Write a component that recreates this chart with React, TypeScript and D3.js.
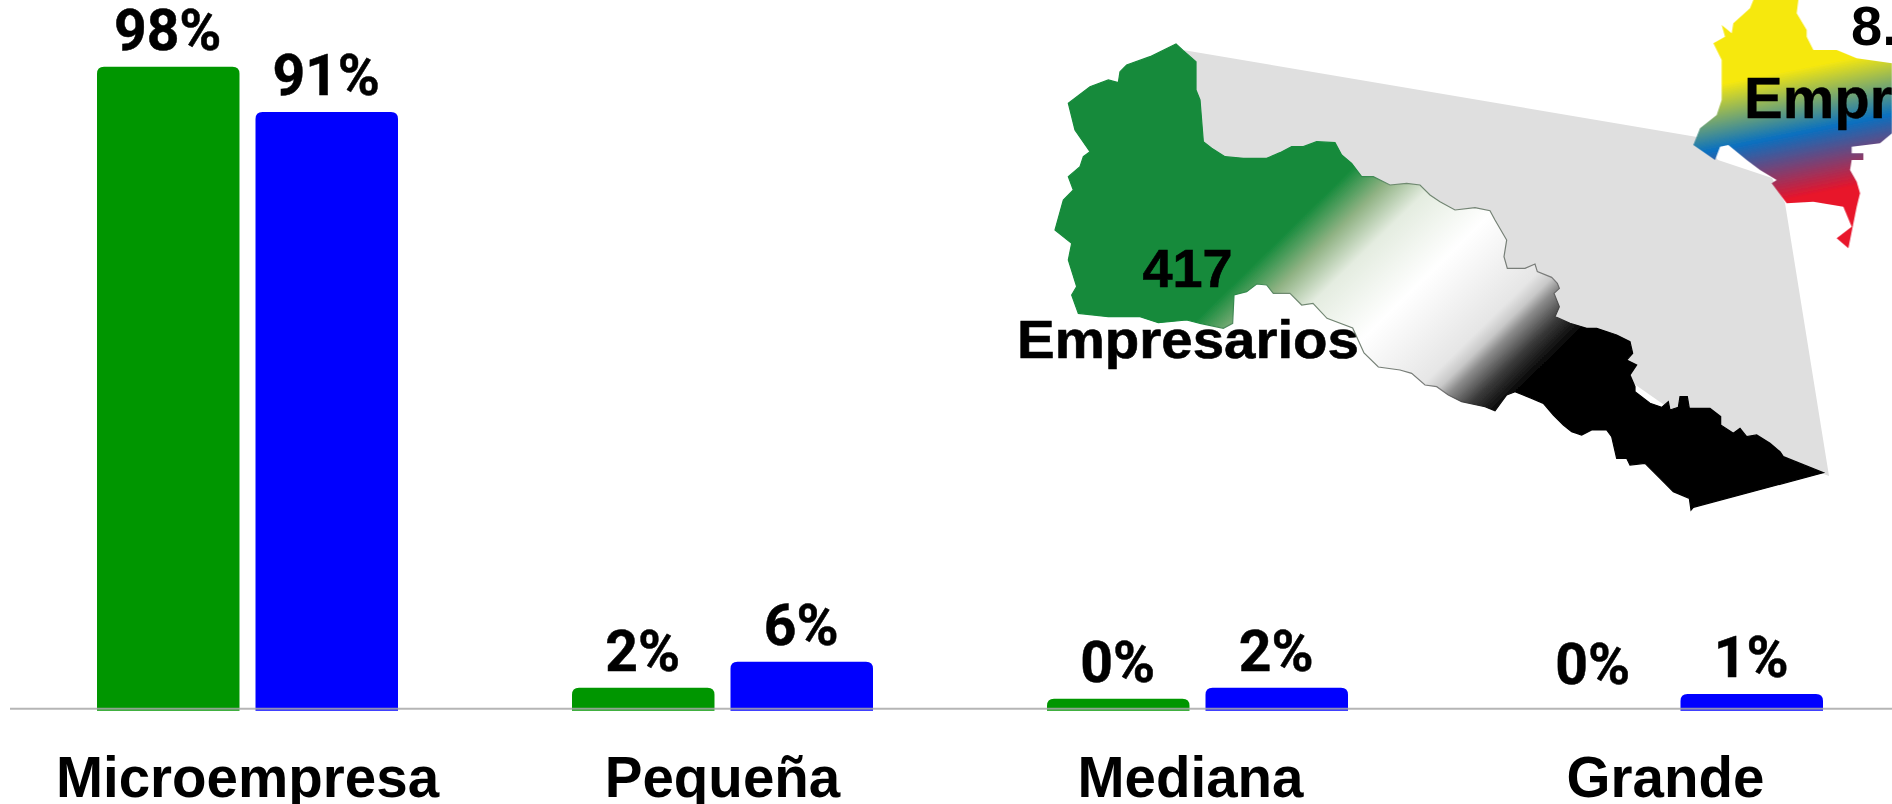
import React from "react";
import * as d3 from "d3";

const categories = ["Microempresa", "Pequeña", "Mediana", "Grande"];
const seriesNames = ["Región", "Nacional"];
const regionValues = [98, 2, 0.3, 0];
const nationalValues = [91, 6, 2, 1.05];
const regionLabels = ["98%", "2%", "0%", "0%"];
const nationalLabels = ["91%", "6%", "2%", "1%"];
const seriesColors = ["#009600", "#0000ff"];
const axisLabelShift = [0, 0, -7, -7];

type P = [number, number];
// outline of the map, traced in two 3x crops of the picture
const regionTopWest: P[] = [[408,42],[430,62],[468,95],[468,180],[480,210],[490,335],[515,355],[555,380],[610,385],[680,385],[720,368],[755,350],[790,350],[830,335],[885,338],[905,375],[935,400],[965,440],[1000,440],[1050,465],[1100,460],[1140,465],[1170,495],[1200,515]];
const regionEast: P[] = [[165,120],[225,113],[270,122],[285,150],[320,210],[312,260],[322,295],[375,295],[405,282],[412,305],[455,322],[472,340],[478,355],[462,370],[478,410],[465,440],[510,460],[560,475],[590,475],[650,495],[690,515],[698,550],[680,570],[710,585],[690,615],[705,650],[705,665],[750,700],[785,712],[805,695],[810,720],[835,712],[840,680],[862,680],[868,715],[930,715],[962,740],[962,765],[1000,790],[1020,775],[1040,800],[1070,795],[1110,820],[1140,845],[1150,860],[1270,908],[880,1012],[873,1020],[868,985],[820,965],[780,925],[735,880],[690,885],[680,865],[650,865],[635,800],[620,780],[575,780],[545,795],[515,785],[490,765],[460,735],[430,700],[395,685],[345,665],[320,675],[285,722],[255,710],[185,695],[145,675],[110,650],[75,645],[35,610],[0,600]];
const regionBottomWest: P[] = [[1015,1011],[972,969],[938,894],[861,865],[819,820],[785,825],[750,790],[700,790],[680,765],[650,762],[620,785],[582,795],[578,880],[550,895],[480,880],[440,870],[355,878],[300,860],[205,860],[115,850],[95,795],[110,770],[85,690],[95,640],[45,600],[70,510],[100,480],[85,440],[120,410],[130,380],[150,365],[105,300],[85,220],[150,170],[205,150],[235,158],[240,125],[260,105],[330,80]];
const zoomShape: P[] = [[1183,50],[1697,137],[1718,160],[1772,178],[1785,203],[1829,476],[1700,430],[1600,360],[1190,160]];
const countryShape: P[] = [[280,0],[270,25],[220,70],[215,100],[185,75],[195,110],[160,130],[185,180],[185,300],[170,345],[120,385],[100,435],[165,480],[180,440],[205,435],[260,480],[300,510],[350,540],[335,550],[380,610],[460,605],[550,620],[575,680],[530,715],[565,745],[590,620],[600,580],[590,545],[570,510],[575,480],[610,480],[610,460],[575,460],[575,440],[660,430],[696,400],[696,190],[590,175],[530,150],[460,150],[440,110],[440,90],[410,40],[415,0]];

const W = 1892, H = 804;
const FONT = "Roboto, 'Liberation Sans', sans-serif";
const ARIAL = "'Liberation Sans', sans-serif";
const x0 = d3.scaleBand<string>().domain(categories).range([10, 1910]);
const x1 = d3.scaleBand<string>().domain(seriesNames).range([87, 388]).paddingInner(0.101);
const y = d3.scaleLinear().domain([-1.55, 98]).range([710.7, 66.7]);
const line = d3.line();
const closed = (p: P[]) => line(p) + "Z";
const fromWest = (p: P): P => [1040 + p[0] / 3, 30 + p[1] / 3];
const fromEast = (p: P): P => [1400 + p[0] / 3, 170 + p[1] / 3];
const regionShape: P[] = [...regionTopWest.map(fromWest), ...regionEast.map(fromEast), ...regionBottomWest.map(fromWest)];

function barPath(x: number, top: number, w: number, bottom: number, r: number) {
  const rr = Math.min(r, bottom - top);
  return `M${x},${bottom}V${top + rr}Q${x},${top} ${x + rr},${top}H${x + w - rr}Q${x + w},${top} ${x + w},${top + rr}V${bottom}Z`;
}

export default function App() {
  const rows = categories.map((c, i) => ({ c, vals: [regionValues[i], nationalValues[i]], labels: [regionLabels[i], nationalLabels[i]] }));
  return (
    <svg width={W} height={H} viewBox={`0 0 ${W} ${H}`} style={{ position: "absolute", left: 0, top: 0, display: "block", background: "#fff" }}>
      <defs>
        <linearGradient id="regionGrad" gradientUnits="userSpaceOnUse" x1={745.5} y1={760} x2={939} y2={958}>
          <stop offset="0" stopColor="#138a3a" />
          <stop offset="0.125" stopColor="#8fb283" />
          <stop offset="0.25" stopColor="#e4ece0" />
          <stop offset="0.47" stopColor="#ffffff" />
          <stop offset="0.74" stopColor="#e6e6e6" />
          <stop offset="0.79" stopColor="#c8c8c8" />
          <stop offset="0.83" stopColor="#8c8c8c" />
          <stop offset="0.91" stopColor="#3a3a3a" />
          <stop offset="1" stopColor="#000000" />
        </linearGradient>
        <linearGradient id="regionStroke" gradientUnits="userSpaceOnUse" x1={745.5} y1={760} x2={939} y2={958}>
          <stop offset="0" stopColor="#138a3a" />
          <stop offset="0.15" stopColor="#6f8a70" />
          <stop offset="0.8" stopColor="#7a7a7a" />
          <stop offset="1" stopColor="#000000" />
        </linearGradient>
        <linearGradient id="countryGrad" gradientUnits="userSpaceOnUse" x1={56} y1={278} x2={130} y2={649}>
          <stop offset="0" stopColor="#f6e80f" />
          <stop offset="0.5" stopColor="#0a70c0" />
          <stop offset="1" stopColor="#e8142a" />
        </linearGradient>
        <filter id="soft" x="-5%" y="-5%" width="110%" height="110%">
          <feGaussianBlur stdDeviation="0.7" />
        </filter>
      </defs>

      {rows.map((r) =>
        r.vals.map((v, j) => {
          const s = seriesNames[j];
          const bx = (x0(r.c) as number) + (x1(s) as number);
          const bw = x1.bandwidth();
          return (
            <g key={r.c + s}>
              {v > 0 && <path d={barPath(bx, y(v), bw, y(-1.55), 7)} fill={seriesColors[j]} />}
              <text x={bx + bw / 2 - 0.5} y={y(v) - 16.5} textAnchor="middle" fontFamily={FONT} fontWeight={700} fontSize={57} fill="#000" stroke="#000" strokeWidth={0.5}>
                {r.labels[j]}
              </text>
            </g>
          );
        })
      )}

      <line x1={10} x2={W} y1={708.7} y2={708.7} stroke="#a8a8a8" strokeOpacity={0.85} strokeWidth={2} />

      {categories.map((c, i) => (
        <text key={c} x={(x0(c) as number) + x0.bandwidth() / 2 + axisLabelShift[i]} y={796.5} textAnchor="middle" fontFamily={ARIAL} fontWeight={700} fontSize={56.5} fill="#000">
          {c}
        </text>
      ))}

      <g filter="url(#soft)">
        <path d={closed(zoomShape)} fill="#dfdfdf" />
        <path d={closed(regionShape)} fill="url(#regionGrad)" stroke="url(#regionStroke)" strokeWidth={1.2} />
        <g transform={`translate(1660,0) scale(${1 / 3})`}>
          <path d={closed(countryShape)} fill="url(#countryGrad)" />
        </g>
        <text x={1187.6} y={287} textAnchor="middle" fontFamily={ARIAL} fontWeight={700} fontSize={54} fill="#000" stroke="#000" strokeWidth={0.6}>417</text>
        <text x={1188} y={358} textAnchor="middle" textLength={342} lengthAdjust="spacingAndGlyphs" fontFamily={ARIAL} fontWeight={700} fontSize={54} fill="#000" stroke="#000" strokeWidth={0.6}>Empresarios</text>
      </g>
      <text x={1851} y={45} fontFamily={ARIAL} fontWeight={700} fontSize={56} fill="#000">8.</text>
      <text x={1744} y={118} fontFamily={ARIAL} fontWeight={700} fontSize={58} fill="#000" stroke="#000" strokeWidth={0.4} filter="url(#soft)">Empresarios</text>
    </svg>
  );
}
